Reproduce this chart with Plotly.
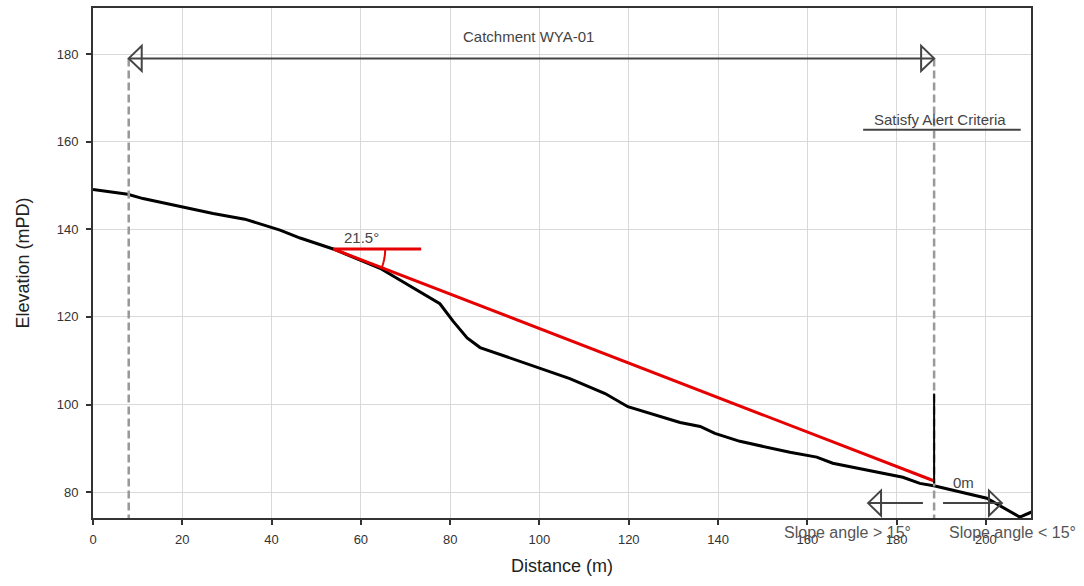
import numpy as np
import plotly.graph_objects as go

# ---- data ----
distance = [0, 7.8, 11.2, 26.9, 34.0, 41.9, 46.4, 53.8, 64.3, 70.3, 77.7, 80.6,
            83.8, 86.7, 100.0, 106.8, 114.7, 119.8, 131.5, 136.0, 139.3, 144.9,
            156.1, 159.9, 162.1, 165.7, 181.4, 185.2, 188.6, 200.2, 207.6, 210.3]
elevation = [149.1, 148.0, 147.0, 143.6, 142.3, 139.8, 138.0, 135.5, 131.1, 127.5,
             123.0, 119.1, 115.2, 113.0, 108.4, 105.9, 102.5, 99.5, 95.9, 95.0,
             93.4, 91.6, 89.1, 88.4, 88.0, 86.6, 83.4, 82.0, 81.4, 78.6, 74.3, 75.5]

angle_line_x = [53.8, 188.3]
angle_line_y = [135.5, 82.6]
angle_deg = 21.5
angle_label = "21.5°"
horiz_end_x = 73.5

catchment_x = [8.0, 188.4]
catchment_y = 179.0
catchment_label = "Catchment WYA-01"

alert_marker_x = 188.4
alert_marker_y = [102.5, 82.0]
alert_label = "Satisfy Alert Criteria"
alert_label_pos = (189.7, 165.0)
alert_underline_x = [172.5, 207.8]
alert_underline_y = 162.7

zero_label = "0m"
zero_label_pos = (195.0, 82.3)

slope_arrow_y = 77.5
slope_left_x = [185.9, 173.6]
slope_right_x = [190.4, 203.6]
slope_labels = ["Slope angle > 15°", "Slope angle < 15°"]
slope_label_x = [169.0, 206.0]
slope_label_y = 70.7

x_range = [0, 210.1]
y_range = [74.1, 190.5]

GREY = "#444444"
FONT = "Liberation Sans, Arial, sans-serif"

fig = go.Figure()

fig.add_trace(go.Scatter(x=distance, y=elevation, mode="lines",
                         line=dict(color="black", width=3), hoverinfo="skip"))
fig.add_trace(go.Scatter(x=angle_line_x, y=angle_line_y, mode="lines",
                         line=dict(color="#e60000", width=3), hoverinfo="skip"))
fig.add_trace(go.Scatter(x=[angle_line_x[0], horiz_end_x], y=[angle_line_y[0]] * 2,
                         mode="lines", line=dict(color="#e60000", width=3),
                         hoverinfo="skip"))

shapes = []
# dashed catchment boundaries
for cx in catchment_x:
    shapes.append(dict(type="line", xref="x", yref="y", x0=cx, x1=cx,
                       y0=catchment_y, y1=y_range[0],
                       line=dict(color="#999999", width=2.5, dash="8px,4px")))
# catchment double arrow
shapes.append(dict(type="line", xref="x", yref="y", x0=catchment_x[0], x1=catchment_x[1],
                   y0=catchment_y, y1=catchment_y, line=dict(color=GREY, width=2)))


def head(xa, ya, direction):
    s = 1 if direction == "left" else -1
    return dict(type="path", xref="x", yref="y", xsizemode="pixel", ysizemode="pixel",
                xanchor=xa, yanchor=ya,
                path=f"M0,0 L{13*s},12.5 L{13*s},-12.5 Z",
                line=dict(color=GREY, width=2), fillcolor="rgba(0,0,0,0)")


shapes.append(head(catchment_x[0], catchment_y, "left"))
shapes.append(head(catchment_x[1], catchment_y, "right"))

# alert marker vertical
shapes.append(dict(type="line", xref="x", yref="y", x0=alert_marker_x, x1=alert_marker_x,
                   y0=alert_marker_y[0], y1=alert_marker_y[1],
                   line=dict(color="black", width=2)))
# underline of alert label
shapes.append(dict(type="line", xref="x", yref="y", x0=alert_underline_x[0],
                   x1=alert_underline_x[1], y0=alert_underline_y, y1=alert_underline_y,
                   line=dict(color=GREY, width=2)))

# slope arrows
shapes.append(dict(type="line", xref="x", yref="y", x0=slope_left_x[0], x1=slope_left_x[1],
                   y0=slope_arrow_y, y1=slope_arrow_y, line=dict(color=GREY, width=2)))
shapes.append(head(slope_left_x[1], slope_arrow_y, "left"))
shapes.append(dict(type="line", xref="x", yref="y", x0=slope_right_x[0], x1=slope_right_x[1],
                   y0=slope_arrow_y, y1=slope_arrow_y, line=dict(color=GREY, width=2)))
shapes.append(head(slope_right_x[1], slope_arrow_y, "right"))

# angle arc (pixel radius)
t = np.radians(np.linspace(0, angle_deg, 12))
r = 52
arc = "M" + " L".join(f"{r*np.cos(a):.2f},{-r*np.sin(a):.2f}" for a in t)
shapes.append(dict(type="path", xref="x", yref="y", xsizemode="pixel", ysizemode="pixel",
                   xanchor=angle_line_x[0], yanchor=angle_line_y[0], path=arc,
                   line=dict(color="#e60000", width=2)))

annotations = [
    dict(x=97.6, y=183.9, text=catchment_label, showarrow=False,
         font=dict(size=15, color=GREY, family=FONT)),
    dict(x=alert_label_pos[0], y=alert_label_pos[1], text=alert_label, showarrow=False,
         font=dict(size=15, color=GREY, family=FONT)),
    dict(x=60.2, y=138.2, text=angle_label, showarrow=False,
         font=dict(size=15, color=GREY, family=FONT)),
    dict(x=zero_label_pos[0], y=zero_label_pos[1], text=zero_label, showarrow=False,
         font=dict(size=15, color=GREY, family=FONT)),
]
# labels sit below the plotting area -> place with paper y derived from data value
slope_label_paper_y = (slope_label_y - y_range[0]) / (y_range[1] - y_range[0])
for lx, lab in zip(slope_label_x, slope_labels):
    annotations.append(dict(x=lx, xref="x", y=slope_label_paper_y, yref="paper",
                            xanchor="center", yanchor="middle",
                            text=lab, showarrow=False,
                            font=dict(size=16, color="#555555", family=FONT)))

axis_common = dict(showline=True, linecolor="#333333", linewidth=2, mirror=True,
                   ticks="outside", ticklen=5, tickcolor="#333333", tickwidth=1.5,
                   showgrid=True, gridcolor="#d9d9d9", gridwidth=1, zeroline=False,
                   tickfont=dict(size=13, color="#333333", family=FONT))

fig.update_layout(
    width=1084, height=586,
    margin=dict(l=93, r=53, t=6, b=68),
    paper_bgcolor="white", plot_bgcolor="white",
    showlegend=False,
    shapes=shapes, annotations=annotations,
    font=dict(family=FONT),
    xaxis=dict(range=x_range, dtick=20, tick0=0, ticklabelstandoff=3,
               title=dict(text="Distance (m)", standoff=14,
                          font=dict(size=18, color="#222222", family=FONT)),
               **axis_common),
    yaxis=dict(range=y_range, dtick=20, tick0=0, ticklabelstandoff=5,
               title=dict(text="Elevation (mPD)", standoff=22,
                          font=dict(size=18, color="#222222", family=FONT)),
               **axis_common),
)

fig.write_html("out.html")
